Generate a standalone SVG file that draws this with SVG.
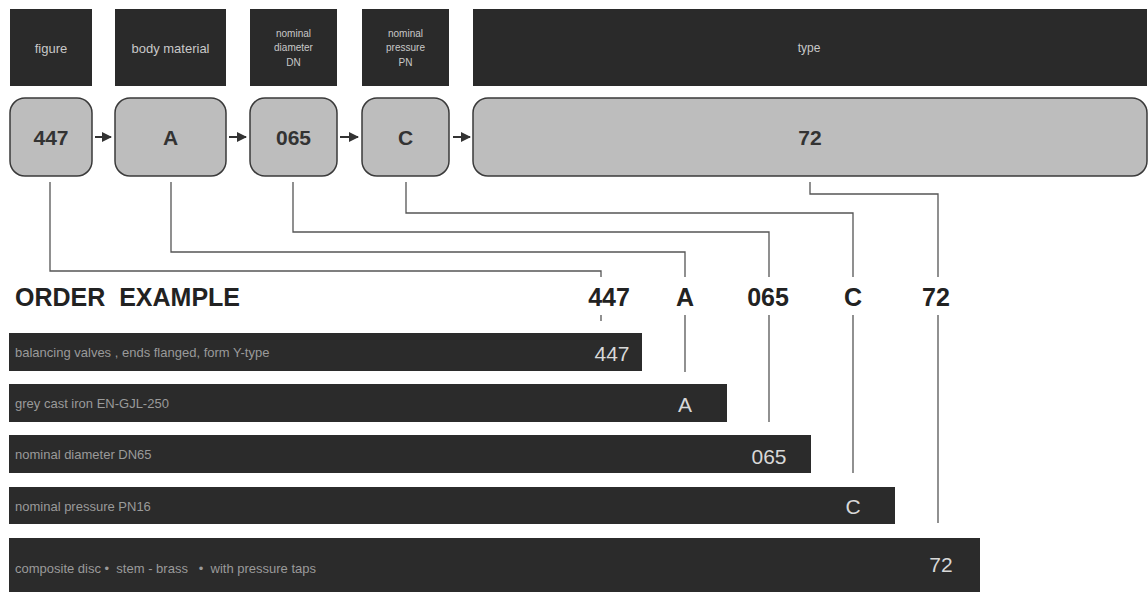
<svg xmlns="http://www.w3.org/2000/svg" width="1148" height="592" viewBox="0 0 1148 592">
  <style>
    text { white-space: pre; }
    .hdr { fill: #2a2a2a; }
    .hdrtxt { font-family: "Liberation Sans", Arial, sans-serif; fill: #c8c8c8; text-anchor: middle; }
    .box { fill: #bdbdbd; stroke: #3a3a3a; stroke-width: 1.5; }
    .boxtxt { font-family: "Liberation Sans", Arial, sans-serif; font-weight: bold; font-size: 21px; fill: #333; text-anchor: middle; }
    .conn { fill: none; stroke: #555; stroke-width: 1.3; }
    .arrow { stroke: #333; stroke-width: 2; }
    .big { font-family: "Liberation Sans", Arial, sans-serif; font-weight: bold; font-size: 25px; fill: #222; }
    .bar { fill: #2b2b2b; }
    .bartxt { font-family: "Liberation Sans", Arial, sans-serif; font-size: 13px; fill: #9a9a9a; }
    .barval { font-family: "Liberation Sans", Arial, sans-serif; font-size: 21px; fill: #d8d8d8; text-anchor: middle; }
  </style>
  <defs>
    <marker id="ah" viewBox="0 0 10 10" refX="9" refY="5" markerWidth="5" markerHeight="5" orient="auto">
      <path d="M0,0 L10,5 L0,10 z" fill="#333"/>
    </marker>
  </defs>
  <rect width="1148" height="592" fill="#ffffff"/>

  <g id="headers">
    <g id="h-figure"><rect class="hdr" x="10" y="9" width="82" height="77"/><text class="hdrtxt" x="51" y="53" font-size="13">figure</text></g>
    <g id="h-body"><rect class="hdr" x="115" y="9" width="111" height="77"/><text class="hdrtxt" x="170.5" y="53" font-size="13">body material</text></g>
    <g id="h-dn"><rect class="hdr" x="250" y="9" width="87" height="77"/><text class="hdrtxt" font-size="10"><tspan x="293.5" y="37">nominal</tspan><tspan x="293.5" y="51">diameter</tspan><tspan x="293.5" y="66">DN</tspan></text></g>
    <g id="h-pn"><rect class="hdr" x="362" y="9" width="87" height="77"/><text class="hdrtxt" font-size="10"><tspan x="405.5" y="37">nominal</tspan><tspan x="405.5" y="51">pressure</tspan><tspan x="405.5" y="66">PN</tspan></text></g>
    <g id="h-type"><rect class="hdr" x="473" y="9" width="674" height="77"/><text class="hdrtxt" x="809" y="52" font-size="12">type</text></g>
  </g>

  <g id="codes">
    <g id="c-447"><rect class="box" x="10" y="98" width="82" height="78" rx="15"/><text class="boxtxt" x="51" y="145">447</text></g>
    <g id="c-A"><rect class="box" x="115" y="98" width="111" height="78" rx="15"/><text class="boxtxt" x="170.5" y="145">A</text></g>
    <g id="c-065"><rect class="box" x="250" y="98" width="87" height="78" rx="15"/><text class="boxtxt" x="293.5" y="145">065</text></g>
    <g id="c-C"><rect class="box" x="362" y="98" width="87" height="78" rx="15"/><text class="boxtxt" x="405.5" y="145">C</text></g>
    <g id="c-72"><rect class="box" x="473" y="98" width="674" height="78" rx="15"/><text class="boxtxt" x="810" y="145">72</text></g>
  </g>

  <g id="connectors">
    <line class="arrow" x1="95" y1="137" x2="111" y2="137" marker-end="url(#ah)"/>
    <line class="arrow" x1="229" y1="137" x2="246" y2="137" marker-end="url(#ah)"/>
    <line class="arrow" x1="340" y1="137" x2="358" y2="137" marker-end="url(#ah)"/>
    <line class="arrow" x1="453" y1="137" x2="470" y2="137" marker-end="url(#ah)"/>

    <polyline class="conn" points="50,182 50,271 601,271 601,277"/>
    <polyline class="conn" points="171,182 171,252 685,252 685,277"/>
    <polyline class="conn" points="293,182 293,232 769,232 769,277"/>
    <polyline class="conn" points="406,182 406,213 853,213 853,277"/>
    <polyline class="conn" points="810,182 810,194 938,194 938,277"/>

    <line class="conn" x1="601" y1="315" x2="601" y2="321"/>
    <line class="conn" x1="685" y1="315" x2="685" y2="372"/>
    <line class="conn" x1="769" y1="315" x2="769" y2="422"/>
    <line class="conn" x1="853" y1="315" x2="853" y2="473"/>
    <line class="conn" x1="938" y1="315" x2="938" y2="523"/>
  </g>

  <g id="order-labels">
    <text class="big" x="15" y="306">ORDER  EXAMPLE</text>
    <text class="big" x="609" y="306" text-anchor="middle">447</text>
    <text class="big" x="685" y="306" text-anchor="middle">A</text>
    <text class="big" x="768" y="306" text-anchor="middle">065</text>
    <text class="big" x="853" y="306" text-anchor="middle">C</text>
    <text class="big" x="936" y="306" text-anchor="middle">72</text>
  </g>

  <g id="bar-447"><rect class="bar" x="9" y="333" width="633" height="38"/><text class="bartxt" x="15" y="357">balancing valves , ends flanged, form Y-type</text><text class="barval" x="612" y="361">447</text></g>
  <g id="bar-A"><rect class="bar" x="9" y="384" width="718" height="38"/><text class="bartxt" x="15" y="408">grey cast iron EN-GJL-250</text><text class="barval" x="685" y="412">A</text></g>
  <g id="bar-065"><rect class="bar" x="9" y="435" width="802" height="38"/><text class="bartxt" x="15" y="459">nominal diameter DN65</text><text class="barval" x="769" y="464">065</text></g>
  <g id="bar-C"><rect class="bar" x="9" y="487" width="886" height="37"/><text class="bartxt" x="15" y="511">nominal pressure PN16</text><text class="barval" x="853" y="514">C</text></g>
  <g id="bar-72"><rect class="bar" x="9" y="538" width="971" height="54"/><text class="bartxt" x="15" y="573">composite disc •  stem - brass   •  with pressure taps</text><text class="barval" x="941" y="572">72</text></g>
</svg>
